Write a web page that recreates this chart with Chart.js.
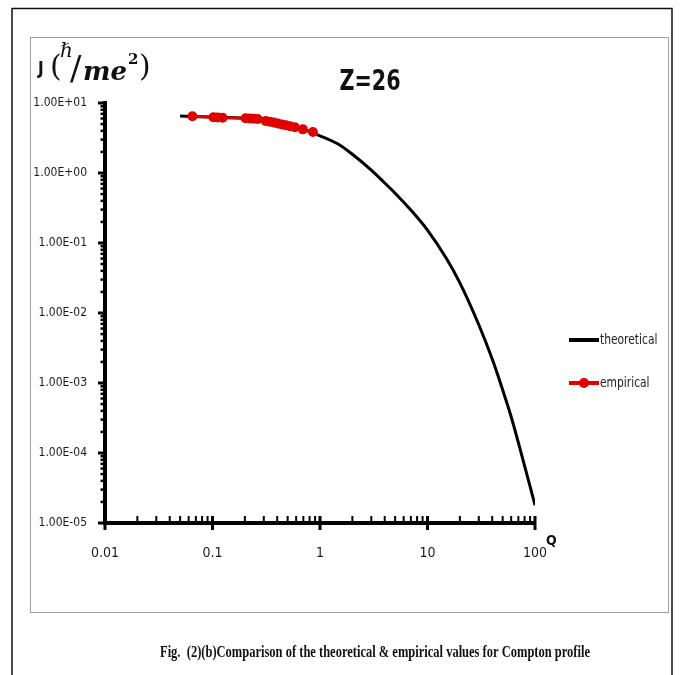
<!DOCTYPE html>
<html>
<head>
<meta charset="utf-8">
<script src="https://cdn.jsdelivr.net/npm/chart.js@4"></script>
<style>
  html, body { margin: 0; padding: 0; background: #fff; }
  #wrap { position: relative; width: 680px; height: 675px; }
</style>
</head>
<body>
<div id="wrap"><canvas id="chart" width="680" height="675"></canvas></div>
<script>
// theoretical Compton profile J(Q)
const theoQ = [0.05, 0.1, 0.2, 0.3, 0.5, 0.7, 1, 1.5, 2, 3, 4, 5, 7, 10, 15, 20, 30, 40, 50, 60, 75, 100];
const theoJ = [6.5, 6.3, 6.05, 5.6, 4.9, 4.2, 3.4, 2.55, 1.85, 1.1, 0.72, 0.515, 0.296, 0.153, 0.06, 0.027, 0.0068, 0.0022, 8.0e-4, 3.3e-4, 9.5e-5, 1.8e-5];

// empirical points
const empQ = [0.065, 0.102, 0.112, 0.124, 0.203, 0.222, 0.242, 0.263, 0.313, 0.341, 0.372, 0.405, 0.442, 0.481, 0.525, 0.584, 0.693, 0.86];
const empJ = [6.45, 6.25, 6.2, 6.15, 6.05, 6.0, 5.95, 5.9, 5.55, 5.4, 5.25, 5.1, 4.95, 4.8, 4.65, 4.5, 4.2, 3.85];

const seriesLabels = ['theoretical', 'empirical'];
const xDecades = [0.01, 0.1, 1, 10, 100];
const yDecades = [1e-5, 1e-4, 1e-3, 1e-2, 1e-1, 1e0, 1e1];
const chartTitle = 'Z=26';
const xTitle = 'Q';
const caption = 'Fig.  (2)(b)Comparison of the theoretical & empirical values for Compton profile';

const narrow = "'DejaVu Sans Condensed', 'Liberation Sans Narrow', 'Liberation Sans', sans-serif";

function logTicks(decades) {
    const out = [];
    decades.forEach((d, i) => {
        out.push({ value: d, major: true });
        if (i < decades.length - 1) for (let k = 2; k <= 9; k++) out.push({ value: +(d * k).toPrecision(3), major: false });
    });
    return out;
}
function isDecade(v) { return Math.abs(Math.log10(v) - Math.round(Math.log10(v))) < 1e-6; }
function sci(v) {
    const e = Math.round(Math.log10(v));
    return '1.00E' + (e < 0 ? '-' : '+') + String(Math.abs(e)).padStart(2, '0');
}

// frame, caption, titles, legend, axis tick marks
const decor = {
    id: 'decor',
    beforeDraw(chart) {
        const ctx = chart.ctx;
        ctx.save();
        ctx.fillStyle = '#fff';
        ctx.fillRect(0, 0, chart.width, chart.height);
        ctx.strokeStyle = '#111';
        ctx.lineWidth = 1.5;
        ctx.beginPath();
        ctx.moveTo(12, 680); ctx.lineTo(12, 8.5); ctx.lineTo(672, 8.5); ctx.lineTo(672, 680);
        ctx.stroke();
        ctx.strokeStyle = '#a0a0a0';
        ctx.lineWidth = 1;
        ctx.strokeRect(30.5, 37.5, 638, 575);
        ctx.restore();
    },
    afterDraw(chart) {
        const ctx = chart.ctx;
        const xs = chart.scales.x, ys = chart.scales.y;
        ctx.save();
        ctx.strokeStyle = '#000';
        // x-axis tick marks: minor ones point up, major ones cross the axis
        xs.ticks.forEach(t => {
            const px = xs.getPixelForValue(t.value);
            const y0 = xs.top;
            ctx.lineWidth = t.major ? 3 : 2;
            ctx.beginPath();
            ctx.moveTo(px, y0 - 7);
            ctx.lineTo(px, t.major ? y0 + 7 : y0);
            ctx.stroke();
        });
        // y-axis tick marks, outward
        ys.ticks.forEach(t => {
            const py = ys.getPixelForValue(t.value);
            const x0 = ys.right;
            ctx.lineWidth = t.major ? 3 : 2.5;
            ctx.beginPath();
            ctx.moveTo(x0 - (t.major ? 7 : 4.5), py);
            ctx.lineTo(x0, py);
            ctx.stroke();
        });
        // title
        ctx.fillStyle = '#111';
        ctx.textBaseline = 'alphabetic';
        ctx.textAlign = 'center';
        ctx.save();
        ctx.translate(370, 90);
        ctx.scale(0.82, 1);
        ctx.font = "bold 28px " + narrow;
        ctx.fillText(chartTitle, 0, 0);
        ctx.restore();
        // x title
        ctx.font = "bold 14px " + narrow;
        ctx.textAlign = 'left';
        ctx.fillText(xTitle, 546, 545);
        // y title  J(ħ/me²)
        ctx.font = "bold 17px " + narrow;
        ctx.fillText('J', 38, 74);
        ctx.font = "30px 'DejaVu Serif', serif";
        ctx.fillText('(', 50, 76);
        ctx.font = "italic 20px 'DejaVu Serif', serif";
        ctx.fillText('\u210F', 60, 57);
        ctx.font = "34px 'DejaVu Serif', serif";
        ctx.fillText('/', 70, 80);
        ctx.font = "bold italic 26px 'DejaVu Serif', serif";
        ctx.fillText('me', 83, 80);
        ctx.font = "bold 15px 'DejaVu Serif', serif";
        ctx.fillText('2', 128, 64);
        ctx.font = "30px 'DejaVu Serif', serif";
        ctx.fillText(')', 139, 76);
        // legend
        chart.data.datasets.forEach((ds, i) => {
            const y = 340 + i * 43;
            ctx.strokeStyle = ds.borderColor;
            ctx.lineWidth = 4;
            ctx.beginPath();
            ctx.moveTo(569, y); ctx.lineTo(599, y);
            ctx.stroke();
            if (ds.pointRadius > 0) {
                ctx.fillStyle = ds.pointBackgroundColor;
                ctx.beginPath();
                ctx.arc(584, y, 5, 0, Math.PI * 2);
                ctx.fill();
            }
            ctx.fillStyle = '#222';
            ctx.textBaseline = 'middle';
            ctx.save();
            ctx.translate(600, y);
            ctx.scale(0.85, 1);
            ctx.font = "14px " + narrow;
            ctx.fillText(ds.label, 0, 0);
            ctx.restore();
        });
        // caption
        ctx.font = "bold 16px 'Liberation Serif', serif";
        ctx.textBaseline = 'alphabetic';
        ctx.textAlign = 'left';
        const w = ctx.measureText(caption).width;
        const target = 430;
        ctx.translate(160, 657);
        ctx.scale(target / w, 1);
        ctx.fillStyle = '#111';
        ctx.fillText(caption, 0, 0);
        ctx.restore();
    }
};

const chart = new Chart(document.getElementById('chart'), {
    type: 'line',
    data: {
        datasets: [
            {
                label: seriesLabels[0],
                data: theoQ.map((q, i) => ({ x: q, y: theoJ[i] })),
                borderColor: '#000',
                borderWidth: 3,
                pointRadius: 0,
                cubicInterpolationMode: 'monotone',
                order: 1,
            },
            {
                label: seriesLabels[1],
                data: empQ.map((q, i) => ({ x: q, y: empJ[i] })),
                borderColor: '#e00000',
                backgroundColor: '#e00000',
                pointBackgroundColor: '#e00000',
                pointBorderWidth: 0,
                borderWidth: 3,
                pointRadius: 5,
                order: 0,
            },
        ],
    },
    options: {
        responsive: false,
        animation: false,
        devicePixelRatio: 1,
        layout: { padding: { left: 30, top: 103, right: 145, bottom: 112 } },
        plugins: { legend: { display: false }, title: { display: false }, tooltip: { enabled: false } },
        scales: {
            x: {
                type: 'logarithmic',
                min: 0.01, max: 100,
                afterBuildTicks: s => { s.ticks = logTicks(xDecades); },
                afterFit: s => { s.height = 40; },
                grid: { display: false },
                border: { display: true, color: '#000', width: 4 },
                ticks: {
                    autoSkip: false, maxRotation: 0, padding: 14,
                    color: '#1a1a1a', font: { family: narrow, size: 14 },
                    callback: v => isDecade(v) ? String(v) : '',
                },
            },
            y: {
                type: 'logarithmic',
                min: 1e-5, max: 10,
                afterBuildTicks: s => { s.ticks = logTicks(yDecades); },
                afterFit: s => { s.width = 75; },
                grid: { display: false },
                border: { display: true, color: '#000', width: 4 },
                ticks: {
                    autoSkip: false, padding: 10,
                    color: '#1a1a1a', font: { family: narrow, size: 12 },
                    callback: v => isDecade(v) ? sci(v) : '',
                },
            },
        },
    },
    plugins: [decor],
});
</script>
</body>
</html>
